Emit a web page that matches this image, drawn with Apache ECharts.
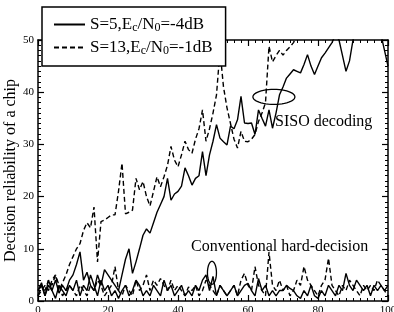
<!DOCTYPE html>
<html><head><meta charset="utf-8">
<script src="https://cdn.jsdelivr.net/npm/echarts@6/dist/echarts.min.js"></script>
<style>html,body{margin:0;padding:0;background:#fff}#c{width:394px;height:312px}</style>
</head><body><div id="c"></div>
<script>
// x = index (0..100)
const sisoS5 = [2,3.5,1,3,2,4,1.5,3,2,4, 5,7,9.4,4,5.5,3,2,5,3,6, 5,4,3,2,5,8,10,5.3,7.5,10,
 12.6,13.8,13,15,17,18.5,20,23.5,19.3,20.5, 21,22,25.5,24,22.2,23.5,24,28.6,24,28,
 30.6,33.8,31.2,30.5,29.9,33.5,33,34.7,39.2,34.1, 34,34.1,31.9,36.6,35,33.5,36.6,33.1,36,39.5,
 41,42.7,43.5,44.3,44,43.7,45.3,47.2,45,43.4, 45,46.6,47.5,48.5,49.5,51,50,47,44,46,
 50,52,53,52,53,52,53,52,51,48,45];
const sisoS13 = [1,3,2,4,3,5,2,3.5,5,7, 8.5,10,11,13.5,15,14,18,7.5,15.2,15.5, 16,16.5,16.5,21,26.4,16.7,17,17.4,23.5,21.3,
 22.9,20,18.2,21,23.8,21.9,23.8,26,29.6,27, 25.7,28,30.6,29,28.3,31,33,36.6,30.6,33,
 36,39.5,48,41,37,34,31,29.3,32.5,30.6, 30.5,31,31.9,34.4,36,38,48.8,45.8,47,48,
 47.1,48,48.7,49.5,51,53,54,54,55,55, 55,55,55,55,55,55,55,55,55,55, 55,55,55,55,55,55,55,55,55,55,55];
const hardS5 = [2,3,1,4,2,0.5,3,2,1,3, 2,4,1,3,2,5,3,1,4,2, 3,1,2,0.5,2,3,1,2,4,3, 1,2,1,3,2,1,4,2,3,1,
 2,3,1,2,1,3,2,4,5,2, 4.7,1,3,2,1,2,3,1,2,3, 3.4,2,1,4.3,2,3,1,2,1,2, 2,3,2.4,2,1,0.5,2,1,3,1,
 0.5,2,1,3,2,1,3,2,5.3,3, 2,4,3,2,3,1,3,2,3,2,3];
const hardS13 = [1,2,3,2,4,5,3,1,2,3, 2,1,3,2,1,3,2,4,3,1, 2,3,6.6,2,1,3,2,1,4,2, 3,5,2,4,3,4.3,3,2,4,2,
 3,2,1,2.7,2,3,1,2,4,3, 2,1,3,2,1,2,3,1,4,5.3, 3,2,6.6,3,2,1,9.4,3,2,4, 2,3,1,2,4,3,6.6,4,3,2,
 1,3,4,8.2,3,2,1,3,2,4, 3,2,1,3,2,3,2,4,3,2,1];
const legendNames = ['S=5,E_c/N_0=-4dB','S=13,E_c/N_0=-1dB'];
const legendRich = {'S=5,E_c/N_0=-4dB':'{n|S=5,E}{s|c}{n|/N}{s|0}{n|=-4dB}','S=13,E_c/N_0=-1dB':'{n|S=13,E}{s|c}{n|/N}{s|0}{n|=-1dB}'};
const xMin=0, xMax=100, xInterval=20, yMin=0, yMax=50, yInterval=10;
const yTitle = 'Decision reliability of a chip';

const F = 'Liberation Serif';
const pairs = a => a.map((v,i)=>[i,v]);
const chart = echarts.init(document.getElementById('c'));
function axis(type, pos, show){
  return {type:'value', position:pos, min: type==='x'?xMin:yMin, max: type==='x'?xMax:yMax,
    interval: type==='x'?xInterval:yInterval,
    axisLine:{show:true,onZero:false,lineStyle:{color:'#000',width:1.5}},
    axisTick:{show:true,inside:true,length:6,lineStyle:{color:'#000',width:1.2}},
    minorTick:{show:true,splitNumber:10,length:3,lineStyle:{color:'#000',width:1}},
    splitLine:{show:false},
    axisLabel:{show:show,color:'#000',fontFamily:F,fontSize:11,margin:4}};
}
const xa0 = axis('x','bottom',true), xa1 = axis('x','top',false);
const ya0 = axis('y','left',true), ya1 = axis('y','right',false);
ya0.name = yTitle; ya0.nameLocation='middle'; ya0.nameGap=19; ya0.nameMoveOverlap=false;
ya0.nameTextStyle={fontFamily:F,fontSize:16,color:'#000'};
const line = (name,data,type)=>({name:name,type:'line',data:pairs(data),symbol:'none',
  showSymbol:false,clip:true,animation:false,z:2,
  lineStyle:{color:'#000',width:1.4,type:type==='dashed'?[5,3]:'solid'},itemStyle:{color:'#000'}});
chart.setOption({
  animation:false,
  grid:{left:38,right:6,top:40,bottom:11,outerBoundsMode:'none',containLabel:false},
  xAxis:[xa0,xa1], yAxis:[ya0,ya1],
  legend:{z:20,data:legendNames,orient:'vertical',left:42,top:7,padding:[9,13,9,11],itemGap:5,
    itemWidth:31,itemHeight:15,backgroundColor:'#fff',borderColor:'#000',borderWidth:1.5,borderRadius:0,
    selectedMode:false,formatter:n=>legendRich[n],
    itemStyle:{opacity:0,color:'rgba(0,0,0,0)',borderWidth:0},
    textStyle:{color:'#000',fontFamily:F,fontSize:17,
      rich:{n:{fontFamily:F,fontSize:17,color:'#000',lineHeight:19},
            s:{fontFamily:F,fontSize:12,color:'#000',lineHeight:12,verticalAlign:'bottom'}}}},
  series:[line(legendNames[0],sisoS5,'solid'),line(legendNames[1],sisoS13,'dashed'),
    line('hard5',hardS5,'solid'),line('hard13',hardS13,'dashed')]
});
function ellipse(cx,cy,rx,ry){
  const c = chart.convertToPixel({xAxisIndex:0,yAxisIndex:0},[cx,cy]);
  const pts=[]; for(let k=0;k<48;k++){const t=k/48*Math.PI*2; pts.push([c[0]+rx*Math.cos(t),c[1]+ry*Math.sin(t)]);}
  return {type:'polygon',shape:{points:pts},style:{fill:'none',stroke:'#000',lineWidth:1.3},z:10};
}
chart.setOption({graphic:[
  ellipse(67.4,39.1,21,7.5),
  ellipse(49.7,5.4,4.5,11.5),
  {type:'text',left:275,top:114,style:{text:'SISO decoding',font:'16px "Liberation Serif"',fill:'#000'},z:10},
  {type:'text',left:191,top:239,style:{text:'Conventional hard-decision',font:'16px "Liberation Serif"',fill:'#000'},z:10}
]});
</script></body></html>
